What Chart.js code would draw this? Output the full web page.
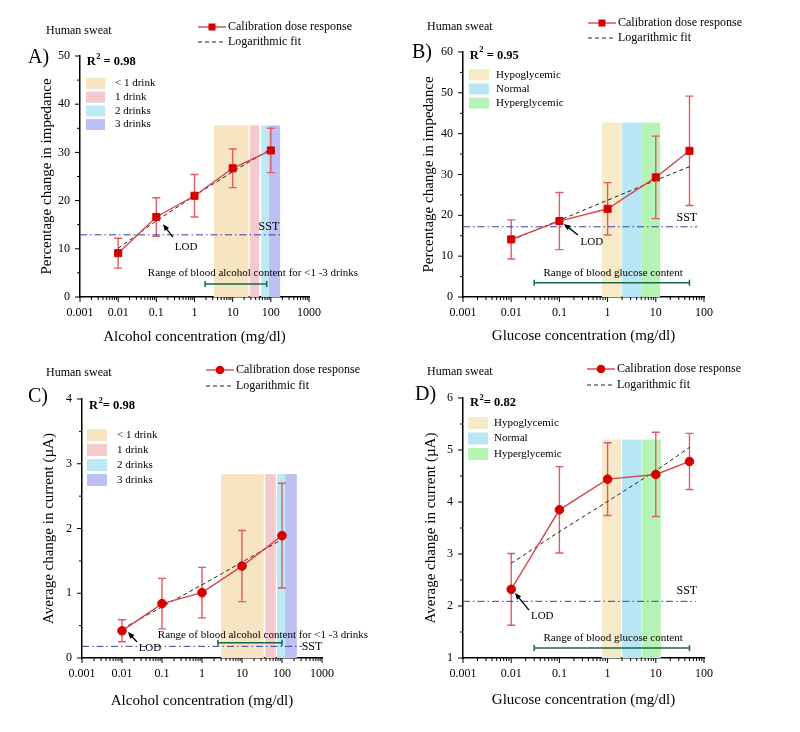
<!DOCTYPE html>
<html>
<head>
<meta charset="utf-8">
<script src="https://cdn.jsdelivr.net/npm/chart.js@4.4.1/dist/chart.umd.min.js"></script>
<style>
  body { margin: 0; background: #fff; }
  #wrap { position: relative; width: 800px; height: 732px; }
  canvas { position: absolute; left: 0; top: 0; }
</style>
</head>
<body>
<div id="wrap">
  <canvas id="chartA" width="800" height="732"></canvas>
  <canvas id="chartB" width="800" height="732"></canvas>
  <canvas id="chartC" width="800" height="732"></canvas>
  <canvas id="chartD" width="800" height="732"></canvas>
</div>
<script>
// concentrations (mg/dl)
const alcoholConc = [0.01, 0.1, 1, 10, 100];
const glucoseConc = [0.01, 0.1, 1, 10, 50];

// A) impedance vs alcohol
const impAlcMean = [9.1, 16.6, 21.0, 26.7, 30.4];
const impAlcErr = [3.1, 4.0, 4.4, 4.0, 4.6];
const impAlcFit = [10.1, 15.8, 21.0, 26.0, 30.7];

// B) impedance vs glucose
const impGluMean = [14.1, 18.6, 21.6, 29.3, 35.8];
const impGluErr = [4.8, 7.0, 6.4, 10.1, 13.4];
const impGluFit = [13.9, 18.8, 23.7, 28.6, 31.9];

// C) current vs alcohol
const curAlcMean = [0.42, 0.84, 1.01, 1.42, 1.89];
const curAlcErr = [0.17, 0.39, 0.39, 0.55, 0.81];
const curAlcFit = [0.45, 0.79, 1.13, 1.48, 1.83];

// D) current vs glucose
const curGluMean = [2.32, 3.85, 4.44, 4.53, 4.78];
const curGluErr = [0.69, 0.83, 0.70, 0.81, 0.54];
const curGluFit = [2.82, 3.43, 4.01, 4.60, 5.05];

// SST levels for A, B, C, D
const sstLevels = [12.9, 17.2, 0.18, 2.09];
const r2Values = ["0.98", "0.95", "0.98", "0.82"];

// shaded concentration ranges
const drinkLabels = ["< 1 drink", "1 drink", "2 drinks", "3 drinks"];
const glycemicLabels = ["Hypoglycemic", "Normal", "Hyperglycemic"];
const drinkBandsImp = [[3.2, 26], [28, 50], [56, 90], [90, 175]];
const drinkBandsCur = [[3.0, 35], [38, 70], [75, 120], [120, 235]];
const glyBandsImp = [[0.76, 1.95], [2.0, 5.05], [5.05, 12.3]];
const glyBandsCur = [[0.76, 1.9], [2.0, 5.05], [5.2, 12.7]];

// blood content ranges
const alcoholRangeImp = [1.9, 78];
const alcoholRangeCur = [2.5, 100];
const glucoseRange = [0.03, 50];

const alcoholTicks = [0.001, 0.01, 0.1, 1, 10, 100, 1000];
const glucoseTicks = [0.001, 0.01, 0.1, 1, 10, 100];

const drinkColors = ["rgb(247,228,192)", "rgb(245,202,207)", "rgb(188,233,245)", "rgb(188,192,242)"];
const glyColors = ["rgb(248,234,200)", "rgb(185,230,245)", "rgb(182,244,182)"];
const lineColor = "rgb(214,70,80)";
const markerColor = "rgb(214,0,0)";
const errColor = "rgb(222,92,98)";
const sstColor = "rgb(60,60,165)";
const rangeColor = "rgb(20,105,70)";
const SERIF = "'Liberation Serif', 'Times New Roman', serif";

Chart.defaults.font.family = SERIF;
Chart.defaults.color = "#000";

function txt(ctx, s, x, y, size, align, bold) {
	ctx.font = (bold ? "bold " : "") + size + "px " + SERIF;
	ctx.textAlign = align || "left";
	ctx.textBaseline = "middle";
	ctx.fillStyle = "#000";
	ctx.fillText(s, x, y);
}

function makePanel(p) {
	const yLeft = p.yTitleX - 9;
	const xBottom = p.xTitleY + 9;
	const pts = (xs, ys) => xs.map((v, i) => ({ x: v, y: ys[i] }));

	const decor = {
		id: "decor",
		beforeDatasetsDraw(chart) {
			const { ctx, scales: { x, y } } = chart;
			ctx.save();
			// shaded bands
			p.bands.forEach((b, i) => {
				const x0 = x.getPixelForValue(b[0]);
				const x1 = x.getPixelForValue(b[1]);
				const yt = y.getPixelForValue(p.bandTop);
				const yb = y.getPixelForValue(p.yMin);
				ctx.fillStyle = p.bandColors[i];
				ctx.fillRect(x0, yt, x1 - x0, yb - yt);
			});
			// error bars
			ctx.strokeStyle = errColor;
			ctx.lineWidth = 1.4;
			p.conc.forEach((c, i) => {
				const px = x.getPixelForValue(c);
				const hi = y.getPixelForValue(p.mean[i] + p.err[i]);
				const lo = y.getPixelForValue(p.mean[i] - p.err[i]);
				ctx.beginPath();
				ctx.moveTo(px, hi); ctx.lineTo(px, lo);
				ctx.moveTo(px - 4, hi); ctx.lineTo(px + 4, hi);
				ctx.moveTo(px - 4, lo); ctx.lineTo(px + 4, lo);
				ctx.stroke();
			});
			ctx.restore();
		},
		afterDraw(chart) {
			const { ctx, chartArea: a, scales: { x, y } } = chart;
			ctx.save();

			// tick marks
			ctx.strokeStyle = "#000";
			ctx.lineWidth = 1;
			ctx.beginPath();
			p.xTicks.forEach((v, i) => {
				const px = x.getPixelForValue(v);
				ctx.moveTo(px, a.bottom); ctx.lineTo(px, a.bottom + 5);
				if (i < p.xTicks.length - 1) {
					for (let m = 2; m < 10; m++) {
						const mx = x.getPixelForValue(v * m);
						ctx.moveTo(mx, a.bottom); ctx.lineTo(mx, a.bottom + 3);
					}
				}
			});
			for (let v = p.yMin; v <= p.yMax + 1e-9; v += p.yStep) {
				const py = y.getPixelForValue(v);
				ctx.moveTo(a.left, py); ctx.lineTo(a.left - 5, py);
				if (v + p.yStep <= p.yMax + 1e-9) {
					const my = y.getPixelForValue(v + p.yStep / 2);
					ctx.moveTo(a.left, my); ctx.lineTo(a.left - 3, my);
				}
			}
			ctx.stroke();

			// panel letter and caption
			txt(ctx, p.letter, p.letterPos[0], p.letterPos[1], 20, "left");
			txt(ctx, "Human sweat", p.sweatPos[0], p.sweatPos[1], 12, "left");

			// top legend
			const lx = p.legendPos[0], ly = p.legendPos[1];
			ctx.strokeStyle = lineColor;
			ctx.lineWidth = 1.4;
			ctx.beginPath(); ctx.moveTo(lx, ly); ctx.lineTo(lx + 28, ly); ctx.stroke();
			ctx.fillStyle = markerColor;
			if (p.marker === "rect") {
				ctx.fillRect(lx + 10.5, ly - 3.5, 7, 7);
			} else {
				ctx.beginPath(); ctx.arc(lx + 14, ly, 4.3, 0, Math.PI * 2); ctx.fill();
			}
			txt(ctx, "Calibration dose response", lx + 30, ly, 12, "left");
			ctx.strokeStyle = "#222";
			ctx.lineWidth = 1;
			ctx.setLineDash([4, 3]);
			ctx.beginPath(); ctx.moveTo(lx, ly + p.legendGap); ctx.lineTo(lx + 28, ly + p.legendGap); ctx.stroke();
			ctx.setLineDash([]);
			txt(ctx, "Logarithmic fit", lx + 30, ly + p.legendGap, 12, "left");

			// R squared
			const rx = x.getPixelForValue(p.r2Pos[0]);
			const ry = y.getPixelForValue(p.r2Pos[1]);
			txt(ctx, "R", rx, ry, 12.5, "left", true);
			let w = ctx.measureText("R").width;
			txt(ctx, "2", rx + w + 0.5, ry - 5, 8.5, "left", true);
			w += ctx.measureText("2").width + 0.5;
			txt(ctx, p.r2Sep + p.r2, rx + w, ry, 12.5, "left", true);

			// band key
			p.bandLabels.forEach((s, i) => {
				const cy = p.keyPos[1] + i * p.keyStep;
				ctx.fillStyle = p.bandColors[i];
				ctx.fillRect(p.keyPos[0], cy - p.keyH / 2, p.keyW, p.keyH);
				txt(ctx, s, p.keyText, cy, 11, "left");
			});

			// SST and range labels
			txt(ctx, "SST", x.getPixelForValue(p.sstLabel[0]), y.getPixelForValue(p.sstLabel[1]), 12, "center");
			txt(ctx, p.rangeText, x.getPixelForValue(p.rangeLabel[0]), y.getPixelForValue(p.rangeLabel[1]), 11, "center");

			// LOD arrow
			const tx = x.getPixelForValue(p.lod.tail[0]), ty = y.getPixelForValue(p.lod.tail[1]);
			const hx = x.getPixelForValue(p.lod.tip[0]), hy = y.getPixelForValue(p.lod.tip[1]);
			const ang = Math.atan2(hy - ty, hx - tx);
			ctx.strokeStyle = "#000";
			ctx.fillStyle = "#000";
			ctx.lineWidth = 1.3;
			ctx.beginPath(); ctx.moveTo(tx, ty); ctx.lineTo(hx - 4 * Math.cos(ang), hy - 4 * Math.sin(ang)); ctx.stroke();
			ctx.beginPath();
			ctx.moveTo(hx, hy);
			ctx.lineTo(hx - 7 * Math.cos(ang - 0.4), hy - 7 * Math.sin(ang - 0.4));
			ctx.lineTo(hx - 7 * Math.cos(ang + 0.4), hy - 7 * Math.sin(ang + 0.4));
			ctx.closePath(); ctx.fill();
			txt(ctx, "LOD", x.getPixelForValue(p.lod.text[0]), y.getPixelForValue(p.lod.text[1]), 11, "center");

			ctx.restore();
		}
	};

	return new Chart(document.getElementById(p.id), {
		type: "line",
		data: {
			datasets: [
				{
					data: pts(p.conc, p.mean),
					borderColor: lineColor,
					borderWidth: 1.4,
					pointStyle: p.marker,
					pointRadius: p.marker === "rect" ? 5 : 4.3,
					pointBackgroundColor: markerColor,
					pointBorderColor: markerColor,
					pointBorderWidth: 1,
				},
				{
					data: pts(p.conc, p.fit),
					borderColor: "#222",
					borderWidth: 1,
					borderDash: [4, 3],
					pointRadius: 0,
				},
				{
					data: [{ x: p.xTicks[0], y: p.sst }, { x: p.sstEnd, y: p.sst }],
					borderColor: sstColor,
					borderWidth: 1,
					borderDash: [7, 3, 1.5, 3],
					pointRadius: 0,
				},
				{
					data: [{ x: p.range[0], y: p.rangeY }, { x: p.range[1], y: p.rangeY }],
					borderColor: rangeColor,
					borderWidth: 1.5,
					pointStyle: "line",
					rotation: 90,
					pointRadius: 3,
					pointBorderColor: rangeColor,
					pointBorderWidth: 1.5,
				},
			],
		},
		options: {
			responsive: false,
			animation: false,
			events: [],
			layout: {
				padding: { left: yLeft, right: 800 - p.area.right, top: p.area.top, bottom: 732 - xBottom },
			},
			plugins: { legend: { display: false }, tooltip: { enabled: false } },
			scales: {
				x: {
					type: "logarithmic",
					min: p.xTicks[0],
					max: p.xTicks[p.xTicks.length - 1],
					grid: { display: false, drawTicks: false },
					border: { display: true, color: "#000", width: 1.5 },
					ticks: {
						autoSkip: false,
						maxRotation: 0,
						padding: 9,
						font: { size: 12 },
						callback: (v) => String(v),
					},
					title: { display: true, text: p.xTitle, font: { size: 15 }, padding: 0 },
					afterBuildTicks: (s) => { s.ticks = p.xTicks.map((v) => ({ value: v })); },
					afterFit: (s) => { s.height = xBottom - p.area.bottom; },
				},
				y: {
					type: "linear",
					min: p.yMin,
					max: p.yMax,
					grid: { display: false, drawTicks: false },
					border: { display: true, color: "#000", width: 1.5 },
					ticks: { stepSize: p.yStep, padding: 10, font: { size: 12 } },
					title: { display: true, text: p.yTitle, font: { size: 15 }, padding: 0 },
					afterFit: (s) => { s.width = p.area.left - yLeft; },
				},
			},
		},
		plugins: [decor],
	});
}

makePanel({
	id: "chartA", letter: "A)", letterPos: [28, 58], sweatPos: [46, 31],
	legendPos: [198, 27], legendGap: 15, marker: "rect",
	area: { left: 80, right: 309, top: 56, bottom: 297 }, yTitleX: 47, xTitleY: 337,
	xTitle: "Alcohol concentration (mg/dl)", yTitle: "Percentage change in impedance",
	xTicks: alcoholTicks, yMin: 0, yMax: 50, yStep: 10,
	conc: alcoholConc, mean: impAlcMean, err: impAlcErr, fit: impAlcFit,
	sst: sstLevels[0], sstEnd: 195, sstLabel: [89, 14.5],
	bands: drinkBandsImp, bandTop: 35.6, bandColors: drinkColors, bandLabels: drinkLabels,
	keyPos: [86, 83.5], keyStep: 13.7, keyText: 115, keyW: 19, keyH: 11,
	range: alcoholRangeImp, rangeY: 2.7,
	rangeText: "Range of blood alcohol content for <1 -3 drinks", rangeLabel: [34, 5.0],
	lod: { text: [0.6, 10.4], tail: [0.27, 12.4], tip: [0.15, 15.1] },
	r2: r2Values[0], r2Sep: " = ", r2Pos: [0.0015, 48.8],
});

makePanel({
	id: "chartB", letter: "B)", letterPos: [412, 53], sweatPos: [427, 27],
	legendPos: [588, 23], legendGap: 15, marker: "rect",
	area: { left: 463, right: 704, top: 52, bottom: 297 }, yTitleX: 429, xTitleY: 336,
	xTitle: "Glucose concentration (mg/dl)", yTitle: "Percentage change in impedance",
	xTicks: glucoseTicks, yMin: 0, yMax: 60, yStep: 10,
	conc: glucoseConc, mean: impGluMean, err: impGluErr, fit: impGluFit,
	sst: sstLevels[1], sstEnd: 72, sstLabel: [44, 19.4],
	bands: glyBandsImp, bandTop: 42.7, bandColors: glyColors, bandLabels: glycemicLabels,
	keyPos: [469, 74.7], keyStep: 14.2, keyText: 496, keyW: 20, keyH: 11,
	range: glucoseRange, rangeY: 3.5,
	rangeText: "Range of blood glucose content", rangeLabel: [1.3, 5.8],
	lod: { text: [0.47, 13.5], tail: [0.243, 15.2], tip: [0.124, 17.9] },
	r2: r2Values[1], r2Sep: " = ", r2Pos: [0.00138, 59.2],
});

makePanel({
	id: "chartC", letter: "C)", letterPos: [28, 397], sweatPos: [46, 373],
	legendPos: [206, 370], legendGap: 16, marker: "circle",
	area: { left: 82, right: 322, top: 399, bottom: 658 }, yTitleX: 49, xTitleY: 701,
	xTitle: "Alcohol concentration (mg/dl)", yTitle: "Average change in current (µA)",
	xTicks: alcoholTicks, yMin: 0, yMax: 4, yStep: 1,
	conc: alcoholConc, mean: curAlcMean, err: curAlcErr, fit: curAlcFit,
	sst: sstLevels[2], sstEnd: 316, sstLabel: [562, 0.17],
	bands: drinkBandsCur, bandTop: 2.84, bandColors: drinkColors, bandLabels: drinkLabels,
	keyPos: [87, 435], keyStep: 15, keyText: 117, keyW: 20, keyH: 12,
	range: alcoholRangeCur, rangeY: 0.236,
	rangeText: "Range of blood alcohol content for <1 -3 drinks", rangeLabel: [33.5, 0.355],
	lod: { text: [0.05, 0.154], tail: [0.0237, 0.247], tip: [0.0141, 0.40] },
	r2: r2Values[2], r2Sep: "= ", r2Pos: [0.0015, 3.9],
});

makePanel({
	id: "chartD", letter: "D)", letterPos: [415, 395], sweatPos: [427, 372],
	legendPos: [587, 369], legendGap: 16, marker: "circle",
	area: { left: 463, right: 704, top: 398, bottom: 658 }, yTitleX: 431, xTitleY: 700,
	xTitle: "Glucose concentration (mg/dl)", yTitle: "Average change in current (µA)",
	xTicks: glucoseTicks, yMin: 1, yMax: 6, yStep: 1,
	conc: glucoseConc, mean: curGluMean, err: curGluErr, fit: curGluFit,
	sst: sstLevels[3], sstEnd: 68, sstLabel: [44, 2.29],
	bands: glyBandsCur, bandTop: 5.2, bandColors: glyColors, bandLabels: glycemicLabels,
	keyPos: [468, 423], keyStep: 15.5, keyText: 494, keyW: 20, keyH: 12,
	range: glucoseRange, rangeY: 1.19,
	rangeText: "Range of blood glucose content", rangeLabel: [1.3, 1.38],
	lod: { text: [0.044, 1.81], tail: [0.0234, 1.92], tip: [0.012, 2.25] },
	r2: r2Values[3], r2Sep: "= ", r2Pos: [0.0014, 5.9],
});
</script>
</body>
</html>
